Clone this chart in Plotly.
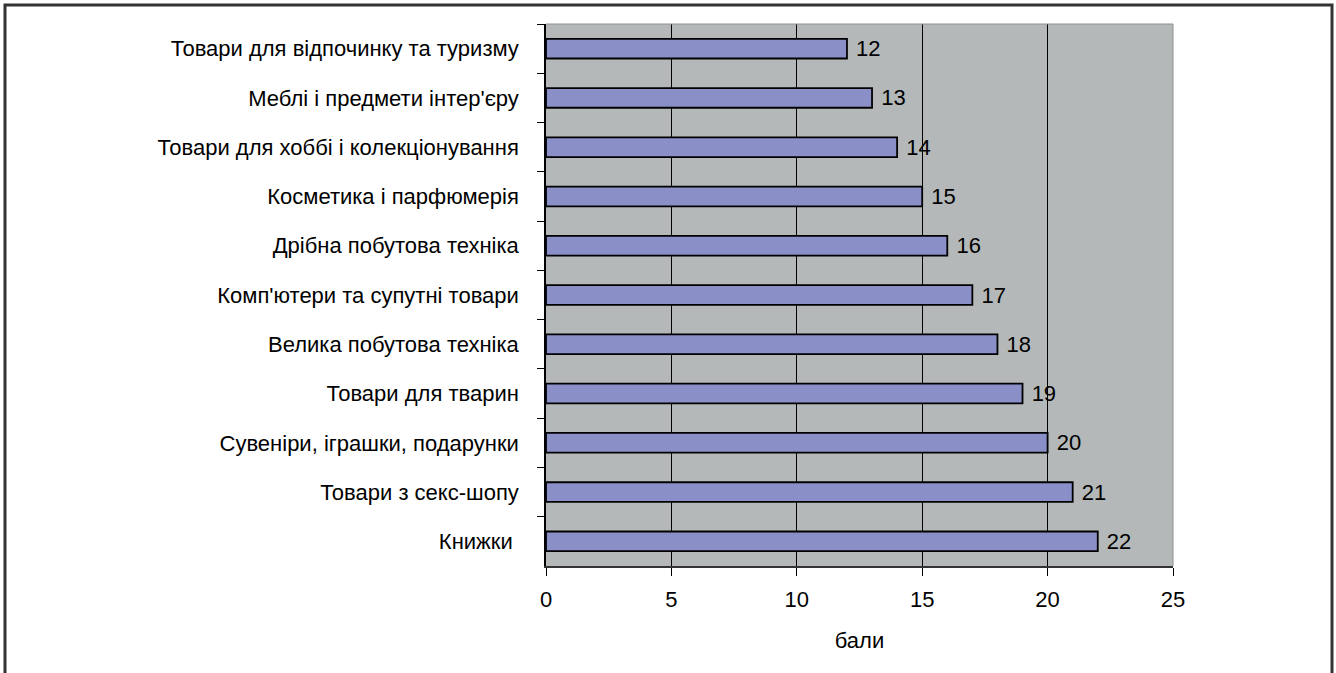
import plotly.graph_objects as go

categories = [
    "Товари для відпочинку та туризму",
    "Меблі і предмети інтер'єру",
    "Товари для хоббі і колекціонування",
    "Косметика і парфюмерія",
    "Дрібна побутова техніка",
    "Комп'ютери та супутні товари",
    "Велика побутова техніка",
    "Товари для тварин",
    "Сувеніри, іграшки, подарунки",
    "Товари з секс-шопу",
    "Книжки ",
]
values = [12, 13, 14, 15, 16, 17, 18, 19, 20, 21, 22]
x_ticks = [0, 5, 10, 15, 20, 25]
x_title = "бали"

W, H = 1336, 673
L, R, T, B = 546, 1173, 24, 566
FS = 22

fig = go.Figure()
fig.add_trace(go.Bar(
    y=categories, x=values, orientation="h",
    marker=dict(color="#8A8FC8", line=dict(color="#000000", width=1.8)),
    width=0.4,
    texttemplate=" %{x}", textposition="outside", constraintext="none",
    textfont=dict(family="Liberation Sans, Arial", size=FS, color="#000"),
    cliponaxis=False,
))

def px_x(px):
    return (px - L) / (R - L)

def px_y(py):
    return (B - py) / (B - T)

fig.add_shape(type="rect", xref="paper", yref="paper",
              x0=px_x(5), x1=px_x(1332), y0=px_y(700), y1=px_y(5),
              line=dict(color="#333333", width=3), layer="below")

fig.update_layout(
    width=W, height=H,
    margin=dict(l=L, r=W - R, t=T, b=H - B),
    paper_bgcolor="white", plot_bgcolor="#B4B8B8",
    font=dict(family="Liberation Sans, Arial", size=FS, color="#000"),
    showlegend=False,
    xaxis=dict(range=[0, 25], tickvals=x_ticks, ticks="outside", ticklen=8,
               tickcolor="#000", showgrid=True, gridcolor="#000", gridwidth=1,
               zeroline=False, showline=True, linecolor="#333", linewidth=2,
               mirror=False, tickfont=dict(size=FS), ticklabelstandoff=5,
               title=dict(text=x_title, font=dict(size=FS), standoff=21)),
    yaxis=dict(autorange="reversed", type="category", ticks="outside",
               tickson="boundaries", ticklen=7, tickcolor="#000",
               showline=True, linecolor="#000", linewidth=1.5,
               showgrid=False, tickfont=dict(size=FS), ticklabelstandoff=21),
)
fig.add_shape(type="line", xref="paper", yref="paper", x0=0, x1=1, y0=1, y1=1,
              line=dict(color="#909090", width=1))
fig.add_shape(type="line", xref="paper", yref="paper", x0=1, x1=1, y0=0, y1=1,
              line=dict(color="#909090", width=1))

fig.write_html("out.html", config={"displayModeBar": False},
               post_script="document.body.style.margin='0';")
